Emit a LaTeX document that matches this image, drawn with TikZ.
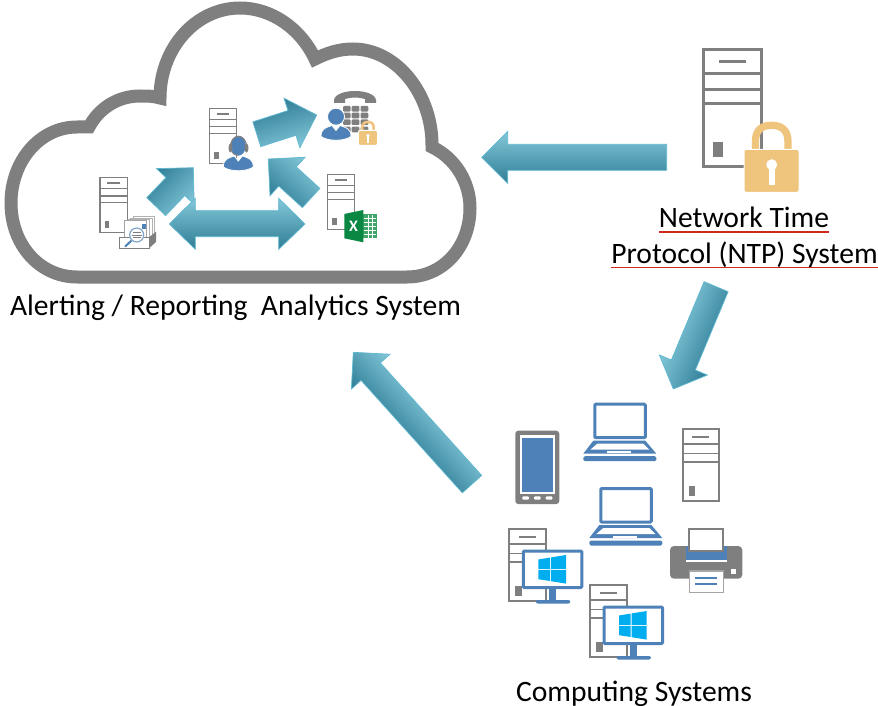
\documentclass[tikz,border=0pt]{standalone}
\usepackage{fontspec}
\setmainfont{Carlito}

\definecolor{cloudgray}{HTML}{7F7F7F}
\definecolor{iconblue}{HTML}{4D81B7}
\definecolor{lockgold}{HTML}{EFC47D}
\definecolor{winblue}{HTML}{00ADEF}
\definecolor{xlgreen}{HTML}{0A8743}
\definecolor{xllight}{HTML}{3FA568}
\definecolor{arrowlight}{HTML}{84C8DA}
\definecolor{arrowmid}{HTML}{4BADC7}
\definecolor{arrowdark}{HTML}{2F7D95}
\definecolor{arrowedge}{HTML}{5DB8D0}
\definecolor{ruled}{HTML}{CC2A1B}

\tikzstyle{pixelfig}=[x=1pt,y=-1pt]
\tikzstyle{blockarrow}=[draw=arrowedge,line width=0.7pt,line join=miter,top color=arrowlight,middle color=arrowmid,bottom color=arrowdark]
\tikzstyle{caption}=[inner sep=0pt,anchor=base,font=\fontsize{29.6}{34}\selectfont,text=black]
\tikzstyle{ruleline}=[draw=ruled,line width=1.8pt]

% tip x, tip y, angle, length
\newcommand{\drawarrow}[4]{
\draw[blockarrow,transform canvas={shift={(#1,#2)},rotate=#3}] (0,0) -- (26,-26) -- (26,-13) -- (#4,-13) -- (#4,13) -- (26,13) -- (26,26) -- cycle;
}
\newcommand{\drawserver}[5]{
\begin{scope}[shift={(#1,#2)},xscale=#3,yscale=#4]
\draw[cloudgray,fill=white,line width=#5pt] (0,0) rectangle (1,1);
\draw[cloudgray,line width=#5pt] (0,0.2) -- (1,0.2);
\draw[cloudgray,line width=0.8*#5pt] (0,0.337) -- (1,0.337);
\draw[cloudgray,line width=#5pt] (0,0.457) -- (1,0.457);
\draw[cloudgray,line width=#5pt] (0.27,0.1) -- (0.73,0.1);
\fill[cloudgray] (0.17,0.79) rectangle (0.34,0.92);
\end{scope}
}
\newcommand{\drawlock}[3]{
\begin{scope}[shift={(#1,#2)},scale=#3]
\draw[lockgold,line width=#3*7.3pt] (11.4,30) -- (11.4,20) .. controls (11.4,8) and (18,3.6) .. (27.7,3.6) .. controls (37,3.6) and (44,8) .. (44,20) -- (44,30);
\draw[white,fill=lockgold,line width=1pt,rounded corners=2pt] (0,27.6) rectangle (55,70.6);
\fill[white] (27.7,43) circle (5.5);
\fill[white] (24.7,43) rectangle (30.7,63.5);
\end{scope}
}
\newcommand{\drawperson}[2]{
\begin{scope}[shift={(#1,#2)}]
\fill[iconblue,draw=white,line width=0.8pt] (-15,11) .. controls (-15,3) and (-10,2) .. (-4,0) -- (0,5) -- (4,0) .. controls (10,2) and (15,3) .. (15,11) .. controls (8,16) and (-8,16) .. (-15,11) -- cycle;
\end{scope}
}
\newcommand{\drawlaptop}[2]{
\begin{scope}[shift={(#1,#2)}]
\draw[iconblue,line width=3pt,rounded corners=1pt] (1.5,1.5) rectangle (52,35);
\fill[iconblue] (0,38) -- (-10,51) -- (63,51) -- (52,38) -- cycle;
\fill[white] (4,41) -- (-3,47) -- (56,47) -- (50,41) -- cycle;
\fill[white] (14,48.5) rectangle (38,50.5);
\fill[iconblue,rounded corners=1.5pt] (-10,53.5) rectangle (63,58.5);
\end{scope}
}
\newcommand{\drawmonitor}[2]{
\begin{scope}[shift={(#1,#2)}]
\draw[iconblue,fill=white,line width=3pt,rounded corners=1pt] (0,0) rectangle (58.5,36.5);
\fill[iconblue] (25.5,38) rectangle (33,49.5);
\fill[iconblue,rounded corners=2pt] (12.5,52.5) -- (12.5,49) -- (47,49) -- (47,52.5) -- cycle;
\fill[winblue] (15,8.5) -- (26.7,6.6) -- (26.7,17.8) -- (15,17.8) -- cycle;
\fill[winblue] (27.7,6.4) -- (42.7,4) -- (42.7,17.8) -- (27.7,17.8) -- cycle;
\fill[winblue] (15,18.8) -- (26.7,18.8) -- (26.7,30) -- (15,28.2) -- cycle;
\fill[winblue] (27.7,18.8) -- (42.7,18.8) -- (42.7,32.6) -- (27.7,30.2) -- cycle;
\end{scope}
}

\begin{document}
\begin{tikzpicture}[style=pixelfig]
\useasboundingbox (0,0) rectangle (878,706);

\draw[cloudgray,line width=13pt,line join=miter,fill=white] (77,277) -- (407,277)
.. controls (443,277) and (470,247) .. (470,208)
.. controls (470,182) and (455,158) .. (432,147)
.. controls (433,95) and (397,49) .. (353,49)
.. controls (339,49) and (327,53) .. (315,59)
.. controls (301,29) and (272,8) .. (240,8)
.. controls (196,8) and (160,48) .. (160,98)
.. controls (153,96) and (148,96) .. (140,96)
.. controls (118,96) and (99,108) .. (89,127)
.. controls (85,127) and (81,127) .. (77,127)
.. controls (40,127) and (11,161) .. (11,203)
.. controls (11,245) and (40,277) .. (77,277) -- cycle;

% block arrows
\drawarrow{481.7}{157.3}{0}{185}
\drawarrow{673.3}{389}{67.3}{110.9}
\drawarrow{353.3}{352.3}{-48}{177.4}
\drawarrow{316.7}{115}{197.8}{62.9}
\drawarrow{268.3}{159}{-42.3}{57.9}
\drawarrow{193.3}{167.7}{226.4}{53.8}
\draw[blockarrow] (169.3,224) -- (195.3,198.3) -- (195.3,210.7) -- (278.7,210.7) -- (278.7,198.3) -- (305,224) -- (278.7,249.3) -- (278.7,236.7) -- (195.3,236.7) -- (195.3,249.3) -- cycle;

% NTP system
\drawserver{703.3}{50}{58.4}{116.7}{3}
\drawlock{744}{121.7}{1}

% cloud contents
\drawserver{209.3}{108.3}{27.4}{55}{1.5}
\drawperson{238.3}{156}
\fill[iconblue] (238.3,145.7) ellipse (7.5 and 10);
\draw[cloudgray,line width=1.2pt] (230.5,147) .. controls (230.5,133) and (246.5,133) .. (246.5,147);
\fill[cloudgray] (230.5,148) ellipse (2 and 4.5);
\fill[cloudgray] (246.5,148) ellipse (2 and 4.5);
\draw[cloudgray,line width=0.8pt] (232,152) .. controls (233,155) and (236,155) .. (238.5,155);

\fill[cloudgray] (334,100) .. controls (336,88) and (374,88) .. (376,100) -- (376,103) -- (365,103) -- (365,99) .. controls (358,97) and (352,97) .. (345,99) -- (345,103) -- (334,103) -- cycle;
\foreach \ky in {106,112.7,119.4,126.7}
  \foreach \kx in {343,351.7,360.7}
    \fill[cloudgray,rounded corners=1pt] (\kx,\ky) rectangle ++(7.6,5.6);
\fill[iconblue,draw=white,line width=0.8pt] (336,116.7) circle (8.5);
\drawperson{336}{125.5}
\drawlock{358.3}{120.7}{0.35}

\drawserver{100}{177.3}{27.7}{55.4}{1.5}
\draw[gray!60,fill=white,line width=0.7pt] (133,216.7) rectangle (154.7,234);
\draw[gray!60,fill=white,line width=0.7pt] (130.5,218) rectangle (152,236);
\draw[gray!60,fill=white,line width=0.7pt] (128,219) rectangle (149.5,237);
\draw[cloudgray!70,fill=white,line width=0.8pt] (124.3,220) rectangle (146.7,240);
\fill[iconblue] (142,224) rectangle (146,228.5);
\fill[cloudgray] (149,237.3) -- (156,231.7) -- (156,242) -- (149,248.3) -- cycle;
\draw[cloudgray,fill=white,line width=1pt] (119.3,237.3) rectangle (149,248.3);
\draw[iconblue,line width=2pt] (131.5,240.5) -- (125,246.7);
\draw[iconblue!70,fill=white,line width=1.2pt] (136.7,235) circle (7);
\draw[cloudgray,line width=0.8pt] (132.5,232.5) -- (141,232.5) (131.5,235) -- (142,235) (132.5,237.5) -- (141,237.5);

\drawserver{327.3}{174.3}{27.4}{55}{1.5}
\fill[xllight] (363.3,214.3) rectangle (376.7,238.3);
\foreach \gy in {218.3,222.3,226.3,230.3,234.3}
  \draw[white,line width=0.6pt] (364,\gy) -- (376,\gy);
\foreach \gx in {368,372}
  \draw[white,line width=0.6pt] (\gx,215) -- (\gx,237.6);
\fill[xlgreen] (344.3,214) -- (363.3,210) -- (363.3,242.3) -- (344.3,238.3) -- cycle;
\node[inner sep=0pt,text=white,font=\fontsize{16}{16}\selectfont\bfseries] (xlmark) at (353.5,226.5) {X};

% computing systems
\drawlaptop{593.3}{402.7}
\drawlaptop{599.3}{487}
\drawserver{682.7}{429.3}{36}{72}{2}
\fill[cloudgray,rounded corners=3pt] (515.3,430.7) rectangle (559.3,504);
\fill[white] (520,435.3) rectangle (555,494);
\fill[iconblue] (522,438) rectangle (553,492);
\foreach \bx in {525.7,537.3,549}
  \fill[white,rounded corners=1pt] (\bx-3.3,496.3) rectangle (\bx+3.3,499.7);

\fill[cloudgray,rounded corners=4pt] (670,546) rectangle (742.3,578.7);
\fill[iconblue] (686,546) rectangle (726.7,560);
\fill[white] (686,560) rectangle (726.7,562);
\draw[cloudgray,fill=white,line width=2pt] (689.3,529.3) rectangle (723.3,550.7);
\draw[cloudgray!70,fill=white,line width=1.5pt] (689.3,571) rectangle (723.3,592.3);
\draw[iconblue,line width=1.6pt] (695,577.7) -- (717.3,577.7) (695,583.7) -- (717.3,583.7);
\fill[white] (730.8,569.2) rectangle (735.8,574.2);

\drawserver{509.3}{529.3}{36.4}{72}{2}
\drawmonitor{523.3}{551}
\drawserver{590.3}{585.3}{36.4}{72}{2}
\drawmonitor{604}{607}

% labels
\node[caption] (cloudlabel) at (235.5,315) {Alerting / Reporting\ \ Analytics System};
\node[caption] (ntptop) at (744,227) {Network Time};
\node[caption] (ntpbottom) at (744.5,263) {Protocol (NTP) System};
\node[caption] (computelabel) at (634,701) {Computing Systems};
\draw[ruleline] ([yshift=-5pt]ntptop.base west) -- ([yshift=-5pt]ntptop.base east);
\draw[ruleline] ([yshift=-4.5pt]ntpbottom.base west) -- ([yshift=-4.5pt]ntpbottom.base east);
\end{tikzpicture}
\end{document}
